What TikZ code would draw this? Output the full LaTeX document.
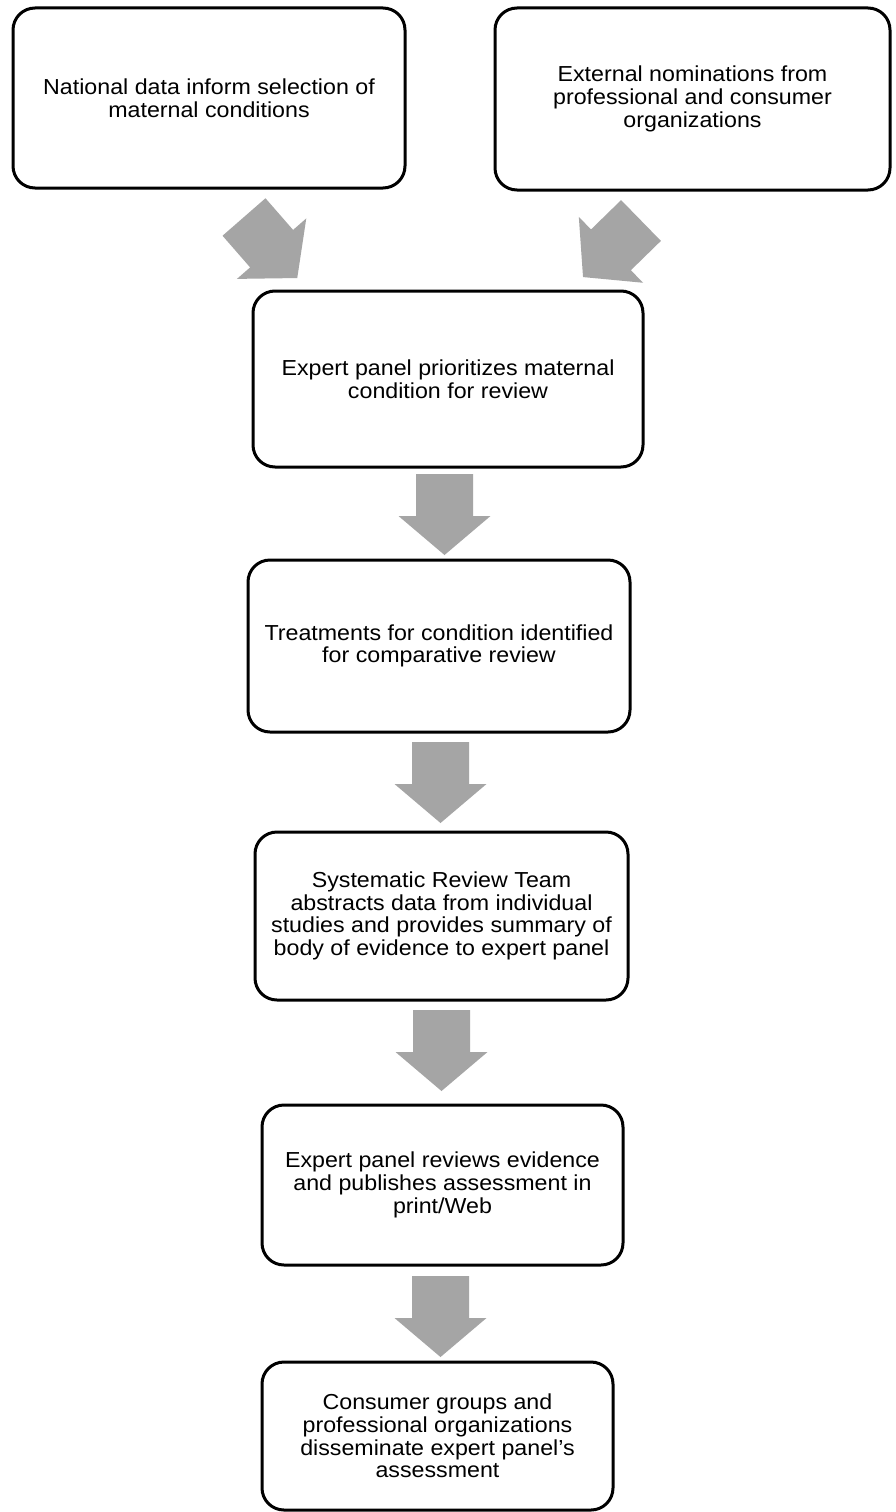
\documentclass[tikz,border=0pt]{standalone}
\usepackage{fontspec}
\setmainfont{Liberation Sans}[FakeStretch=1.07]
\definecolor{arrowgray}{HTML}{A5A5A5}
\tikzset{
  box/.style={draw=black, line width=3pt, rounded corners=22pt, align=center,
    inner sep=0pt, font=\fontsize{21.7}{22.7}\selectfont},
  blockarr/.pic={\fill[arrowgray] (0,-28.5) -- (42,-28.5) -- (42,-46) -- (81,0)
    -- (42,46) -- (42,28.5) -- (0,28.5) -- cycle;}
}
\begin{document}
\begin{tikzpicture}[x=1pt,y=1pt]
\useasboundingbox (0,0) rectangle (896,-1512);
\fill[white] (0,0) rectangle (896,-1512);
\node[box, minimum width=392pt, minimum height=180pt] (b1) at (209,-98)
  {National data inform selection of\\maternal conditions};
\node[box, minimum width=395pt, minimum height=182pt] (b2) at (692.5,-99)
  {External nominations from\\professional and consumer\\organizations};
\node[box, minimum width=390pt, minimum height=176pt] (b3) at (448,-379)
  {Expert panel prioritizes maternal\\condition for review};
\node[box, minimum width=382pt, minimum height=172pt] (b4) at (439,-646)
  {Treatments for condition identified\\for comparative review};
\node[box, minimum width=373pt, minimum height=168pt] (b5) at (441.5,-916)
  {Systematic Review Team\\abstracts data from individual\\studies and provides summary of\\body of evidence to expert panel};
\node[box, minimum width=361pt, minimum height=160pt] (b6) at (442.5,-1185)
  {Expert panel reviews evidence\\and publishes assessment in\\print/Web};
\node[box, minimum width=351pt, minimum height=148pt] (b7) at (437.5,-1436)
  {Consumer groups and\\professional organizations\\disseminate expert panel's\\assessment};
% block arrows
\pic[rotate=-48.9] (a13) at (244,-217) {blockarr};
\pic[rotate=-135.7] (a23) at (641,-220.5) {blockarr};
\pic[rotate=-90] (a34) at (444.5,-474) {blockarr};
\pic[rotate=-90] (a45) at (440.5,-742) {blockarr};
\pic[rotate=-90] (a56) at (441.5,-1010) {blockarr};
\pic[rotate=-90] (a67) at (440.5,-1276) {blockarr};
\end{tikzpicture}
\end{document}
